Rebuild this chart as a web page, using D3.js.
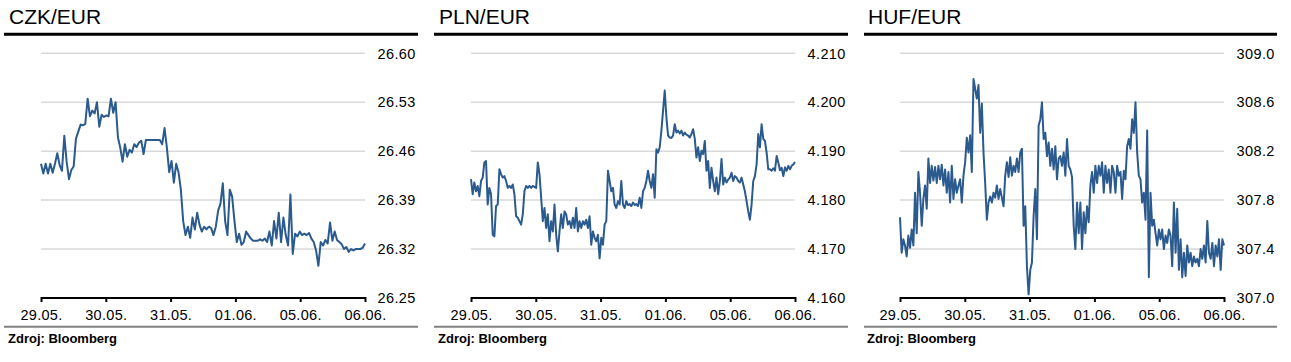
<!DOCTYPE html>
<html><head><meta charset="utf-8">
<script src="https://cdn.jsdelivr.net/npm/d3@7/dist/d3.min.js"></script>
<style>
body{margin:0;background:#fff;}
text{font-family:"Liberation Sans",Arial,Helvetica,sans-serif;fill:#000;}
</style>
</head><body>
<svg id="chart" width="1291" height="362"></svg>
<script>
const dateLabels = ["29.05.","30.05.","31.05.","01.06.","05.06.","06.06."];
const titles = ["CZK/EUR","PLN/EUR","HUF/EUR"];
const sourceLabel = "Zdroj: Bloomberg";

const czkTicks = [26.25,26.32,26.39,26.46,26.53,26.60];
const plnTicks = [4.160,4.170,4.180,4.190,4.200,4.210];
const hufTicks = [307.0,307.4,307.8,308.2,308.6,309.0];

const czkValues = [
26.442,26.428,26.442,26.428,26.442,26.429,26.442,26.457,26.440,26.432,
26.482,26.445,26.420,26.433,26.438,26.478,26.488,26.498,26.497,26.499,
26.535,26.510,26.518,26.514,26.530,26.495,26.512,26.509,26.511,26.510,
26.535,26.515,26.530,26.480,26.465,26.445,26.470,26.452,26.462,26.458,
26.470,26.466,26.472,26.475,26.456,26.476,26.476,26.476,26.476,26.476,
26.476,26.476,26.470,26.493,26.465,26.430,26.446,26.415,26.442,26.430,
26.405,26.360,26.340,26.352,26.336,26.365,26.348,26.372,26.355,26.345,
26.352,26.348,26.352,26.350,26.340,26.352,26.375,26.385,26.414,26.360,
26.340,26.405,26.395,26.360,26.330,26.342,26.326,26.330,26.345,26.340,
26.335,26.332,26.332,26.332,26.334,26.332,26.335,26.330,26.345,26.325,
26.360,26.335,26.372,26.330,26.365,26.340,26.325,26.398,26.313,26.342,
26.338,26.345,26.340,26.342,26.340,26.343,26.335,26.330,26.318,26.296,
26.330,26.325,26.333,26.328,26.358,26.332,26.345,26.333,26.330,26.327,
26.320,26.323,26.316,26.320,26.318,26.320,26.320,26.320,26.322,26.328
];

const plnValues = [
4.1843,4.1812,4.1836,4.1818,4.1829,4.1808,4.1839,4.1846,4.1877,4.1880,
4.1791,4.1825,4.1812,4.1729,4.1726,4.1788,4.1791,4.1863,4.1853,4.1846,
4.1849,4.1839,4.1825,4.1829,4.1825,4.1832,4.1812,4.1767,4.1764,4.1757,
4.1750,4.1771,4.1818,4.1829,4.1825,4.1829,4.1825,4.1829,4.1827,4.1825,
4.1877,4.1853,4.1805,4.1757,4.1784,4.1743,4.1771,4.1716,4.1757,4.1736,
4.1791,4.1729,4.1695,4.1736,4.1771,4.1743,4.1777,4.1771,4.1750,4.1757,
4.1743,4.1764,4.1743,4.1784,4.1736,4.1757,4.1743,4.1757,4.1750,4.1760,
4.1743,4.1767,4.1709,4.1736,4.1723,4.1716,4.1729,4.1681,4.1723,4.1709,
4.1750,4.1757,4.1860,4.1839,4.1818,4.1825,4.1791,4.1784,4.1798,4.1791,
4.1839,4.1791,4.1784,4.1798,4.1790,4.1792,4.1788,4.1795,4.1790,4.1792,
4.1788,4.1805,4.1784,4.1818,4.1825,4.1839,4.1860,4.1839,4.1825,4.1853,
4.1805,4.1904,4.1897,4.1908,4.1942,4.1983,4.2024,4.1969,4.1932,4.1928,
4.1927,4.1932,4.1955,4.1938,4.1942,4.1936,4.1942,4.1932,4.1938,4.1934,
4.1932,4.1928,4.1935,4.1945,4.1925,4.1887,4.1908,4.1880,4.1901,4.1894,
4.1921,4.1860,4.1880,4.1825,4.1866,4.1839,4.1818,4.1846,4.1812,4.1839,
4.1884,4.1832,4.1846,4.1836,4.1842,4.1846,4.1856,4.1839,4.1849,4.1846,
4.1839,4.1836,4.1846,4.1832,4.1818,4.1798,4.1777,4.1760,4.1791,4.1839,
4.1849,4.1873,4.1935,4.1908,4.1955,4.1925,4.1921,4.1897,4.1863,4.1863,
4.1860,4.1865,4.1860,4.1890,4.1877,4.1861,4.1866,4.1849,4.1867,4.1860,
4.1870,4.1863,4.1870,4.1873,4.1878
];

const hufValues = [
307.66,307.37,307.48,307.43,307.34,307.51,307.41,307.56,307.43,307.86,
307.53,308.03,307.86,307.59,307.81,307.92,307.73,308.14,307.94,308.08,
307.96,308.07,307.94,308.08,307.97,308.09,307.92,308.05,307.86,308.03,
307.78,308.08,307.81,307.97,307.86,307.92,307.97,307.78,308.00,308.11,
308.31,308.19,308.33,308.03,308.79,308.71,308.63,308.74,308.35,308.59,
308.19,307.94,307.64,307.78,307.83,307.78,307.86,307.82,307.92,307.81,
307.89,307.82,307.75,308.00,308.11,307.99,308.15,308.00,308.08,308.03,
308.14,308.03,308.19,308.22,307.59,307.75,307.26,307.03,307.23,307.29,
307.67,307.89,307.48,308.41,308.46,308.60,308.30,308.35,308.16,308.27,
308.08,308.22,308.05,308.24,307.97,308.14,308.16,308.08,308.19,308.00,
308.30,308.08,308.05,307.99,307.59,307.40,307.78,307.53,307.78,307.40,
307.70,307.53,307.75,307.62,307.92,308.03,307.86,308.08,307.94,308.08,
308.00,308.11,307.86,308.08,307.94,308.05,307.86,308.08,308.03,307.86,
308.08,308.00,308.03,307.81,308.04,307.97,308.24,308.30,308.22,308.46,
308.35,308.60,308.19,308.00,307.97,307.78,307.86,307.64,308.37,307.17,
307.86,307.59,307.64,307.53,307.43,307.56,307.48,307.56,307.40,307.51,
307.45,307.56,307.51,307.26,307.78,307.37,307.73,307.23,307.48,307.17,
307.37,307.18,307.43,307.29,307.37,307.26,307.34,307.29,307.32,307.26,
307.40,307.32,307.43,307.29,307.63,307.37,307.32,307.45,307.26,307.43,
307.34,307.48,307.23,307.48,307.43
];

const panels = [
  {title: titles[0], values: czkValues, ticks: czkTicks, fmt: d3.format(".2f"), ox: 0, rule: [4, 418]},
  {title: titles[1], values: plnValues, ticks: plnTicks, fmt: d3.format(".3f"), ox: 430, rule: [4, 418]},
  {title: titles[2], values: hufValues, ticks: hufTicks, fmt: d3.format(".1f"), ox: 859, rule: [5, 418]}
];

const svg = d3.select("#chart");
svg.append("rect").attr("width",1291).attr("height",362).attr("fill","#fff");

const plotL = 41, plotR = 365, yTop = 53.3, yBot = 298;

panels.forEach(p => {
  const g = svg.append("g").attr("transform", `translate(${p.ox},0)`);

  g.append("text").attr("x", 9).attr("y", 23.5)
    .attr("font-size", 21).text(p.title);

  g.append("line").attr("x1", p.rule[0]).attr("x2", p.rule[1])
    .attr("y1", 34.2).attr("y2", 34.2)
    .attr("stroke", "#000").attr("stroke-width", 3);

  const y = d3.scaleLinear().domain([p.ticks[0], p.ticks[p.ticks.length-1]]).range([yBot, yTop]);
  const xd = d3.scaleLinear().domain([0, dateLabels.length-1]).range([plotL, plotR]);
  const xi = d3.scaleLinear().domain([0, p.values.length-1]).range([plotL, plotR]);

  g.append("g").selectAll("line").data(p.ticks.slice(1)).join("line")
    .attr("x1", plotL).attr("x2", plotR)
    .attr("y1", d => y(d)).attr("y2", d => y(d))
    .attr("stroke", "#d9d9d9").attr("stroke-width", 1.5);

  g.append("g").selectAll("text").data(p.ticks).join("text")
    .attr("x", 377.5).attr("y", d => y(d)).attr("dy", "0.36em")
    .attr("font-size", 14.5).attr("letter-spacing", "0.4px")
    .text(d => p.fmt(d));

  const line = d3.line().x((d,i) => xi(i)).y(d => y(d));
  g.append("path").datum(p.values)
    .attr("d", line).attr("fill", "none")
    .attr("stroke", "#2b5a8e").attr("stroke-width", 2)
    .attr("stroke-linejoin", "round");

  const ax = g.append("g").attr("transform", `translate(0,${yBot})`)
    .call(d3.axisBottom(xd).tickValues(d3.range(dateLabels.length))
      .tickFormat(i => dateLabels[i]).tickSize(4).tickSizeOuter(0));
  ax.select(".domain").attr("stroke", "#000").attr("stroke-width", 2)
    .attr("d", `M${plotL},0H${plotR}`);
  ax.selectAll(".tick line").attr("stroke", "#000").attr("stroke-width", 2).attr("y1", -1);
  ax.selectAll(".tick text").attr("y", 21.5).attr("dy", null)
    .attr("font-size", 14.5).attr("letter-spacing", "0.3px")
    .attr("font-family", '"Liberation Sans",Arial,sans-serif').attr("fill", "#000");

  g.append("line").attr("x1", p.rule[0]).attr("x2", p.rule[1])
    .attr("y1", 326.7).attr("y2", 326.7)
    .attr("stroke", "#808080").attr("stroke-width", 2);

  g.append("text").attr("x", 8).attr("y", 343)
    .attr("font-size", 13).attr("font-weight", "bold").text(sourceLabel);
});
</script>
</body></html>
